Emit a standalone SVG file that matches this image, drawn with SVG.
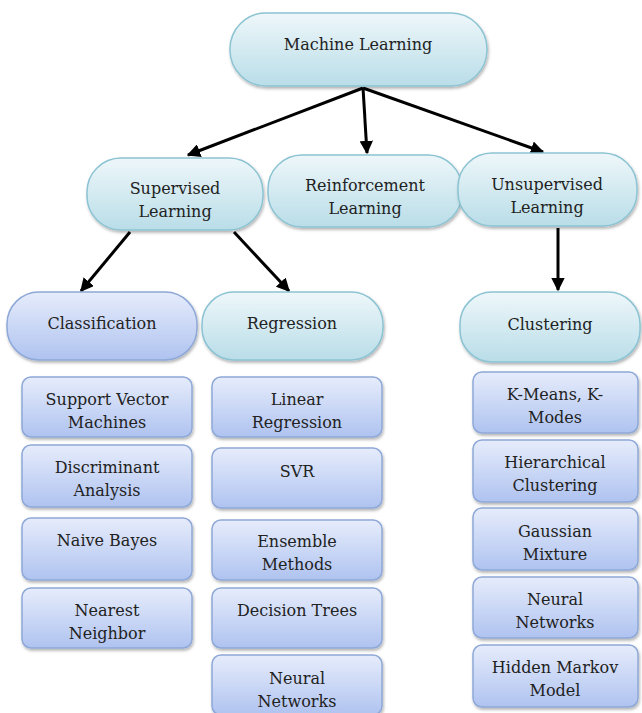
<svg xmlns="http://www.w3.org/2000/svg" width="642" height="713" viewBox="0 0 642 713">
<defs>
<linearGradient id="gc" x1="0" y1="0" x2="0" y2="1">
<stop offset="0" stop-color="#eef7fa"/><stop offset="1" stop-color="#b9dde8"/>
</linearGradient>
<linearGradient id="gb" x1="0" y1="0" x2="0" y2="1">
<stop offset="0" stop-color="#e6ecfb"/><stop offset="1" stop-color="#afc3f0"/>
</linearGradient>
<filter id="sh" x="-10%" y="-10%" width="120%" height="130%">
<feDropShadow dx="1" dy="2" stdDeviation="1.5" flood-color="#000" flood-opacity="0.3"/>
</filter>
<marker id="ah" viewBox="0 0 10 10" refX="9" refY="5" markerWidth="4.5" markerHeight="4.5" orient="auto" markerUnits="strokeWidth">
<path d="M0,0 L10,5 L0,10 z" fill="#000"/>
</marker>
<style>
.c{fill:url(#gc);stroke:#8cc3d3;stroke-width:1.5;filter:url(#sh)}
.b{fill:url(#gb);stroke:#8ea8d8;stroke-width:1.5;filter:url(#sh)}
text{font-family:"DejaVu Serif",serif;font-size:16px;fill:#222;text-anchor:middle}
.e{stroke:#000;stroke-width:3;fill:none;marker-end:url(#ah)}
</style>
</defs>
<rect width="642" height="713" fill="#fff"/>
<g id="connectors">
<line class="e" x1="363" y1="88" x2="188" y2="155"/>
<line class="e" x1="363" y1="88" x2="367" y2="153"/>
<line class="e" x1="363" y1="88" x2="543" y2="152"/>
<line class="e" x1="130" y1="232" x2="81" y2="291"/>
<line class="e" x1="234" y1="232" x2="289" y2="291"/>
<line class="e" x1="558" y1="228" x2="558" y2="290"/>
</g>
<g id="machine-learning"><rect class="c" x="230" y="13" width="257" height="73" rx="36"/><text x="358" y="50">Machine  Learning</text></g>
<g id="supervised"><rect class="c" x="87" y="158" width="176" height="72" rx="34"/><text x="175" y="194">Supervised</text><text x="175" y="217">Learning</text></g>
<g id="reinforcement"><rect class="c" x="268" y="155" width="194" height="72" rx="34"/><text x="365" y="191">Reinforcement</text><text x="365" y="214">Learning</text></g>
<g id="unsupervised"><rect class="c" x="458" y="153" width="179" height="73" rx="34"/><text x="547" y="190">Unsupervised</text><text x="547" y="213">Learning</text></g>
<g id="classification"><rect class="b" x="7" y="292" width="190" height="68" rx="32"/><text x="102" y="329">Classification</text></g>
<g id="regression"><rect class="c" x="202" y="292" width="181" height="68" rx="32"/><text x="292" y="329">Regression</text></g>
<g id="clustering"><rect class="c" x="460" y="292" width="180" height="70" rx="32"/><text x="550" y="330">Clustering</text></g>
<g id="svm"><rect class="b" x="22" y="377" width="170" height="60" rx="9"/><text x="107" y="405">Support Vector</text><text x="107" y="428">Machines</text></g>
<g id="discriminant"><rect class="b" x="22" y="445" width="170" height="62" rx="9"/><text x="107" y="473">Discriminant</text><text x="107" y="496">Analysis</text></g>
<g id="naive-bayes"><rect class="b" x="22" y="518" width="170" height="62" rx="9"/><text x="107" y="546">Naive  Bayes</text></g>
<g id="nearest"><rect class="b" x="22" y="588" width="170" height="60" rx="9"/><text x="107" y="616">Nearest</text><text x="107" y="639">Neighbor</text></g>
<g id="linear"><rect class="b" x="212" y="377" width="170" height="60" rx="9"/><text x="297" y="405">Linear</text><text x="297" y="428">Regression</text></g>
<g id="svr"><rect class="b" x="212" y="448" width="170" height="60" rx="9"/><text x="297" y="477">SVR</text></g>
<g id="ensemble"><rect class="b" x="212" y="520" width="170" height="60" rx="9"/><text x="297" y="547">Ensemble</text><text x="297" y="570">Methods</text></g>
<g id="decision"><rect class="b" x="212" y="588" width="170" height="60" rx="9"/><text x="297" y="616">Decision  Trees</text></g>
<g id="neural-reg"><rect class="b" x="212" y="655" width="170" height="60" rx="9"/><text x="297" y="684">Neural</text><text x="297" y="707">Networks</text></g>
<g id="kmeans"><rect class="b" x="473" y="372" width="165" height="61" rx="9"/><text x="555" y="400">K-Means, K-</text><text x="555" y="423">Modes</text></g>
<g id="hierarchical"><rect class="b" x="473" y="440" width="165" height="62" rx="9"/><text x="555" y="468">Hierarchical</text><text x="555" y="491">Clustering</text></g>
<g id="gaussian"><rect class="b" x="473" y="508" width="165" height="62" rx="9"/><text x="555" y="537">Gaussian</text><text x="555" y="560">Mixture</text></g>
<g id="neural-clu"><rect class="b" x="473" y="577" width="165" height="61" rx="9"/><text x="555" y="605">Neural</text><text x="555" y="628">Networks</text></g>
<g id="hmm"><rect class="b" x="473" y="645" width="165" height="62" rx="9"/><text x="555" y="673">Hidden  Markov</text><text x="555" y="696">Model</text></g>
</svg>
